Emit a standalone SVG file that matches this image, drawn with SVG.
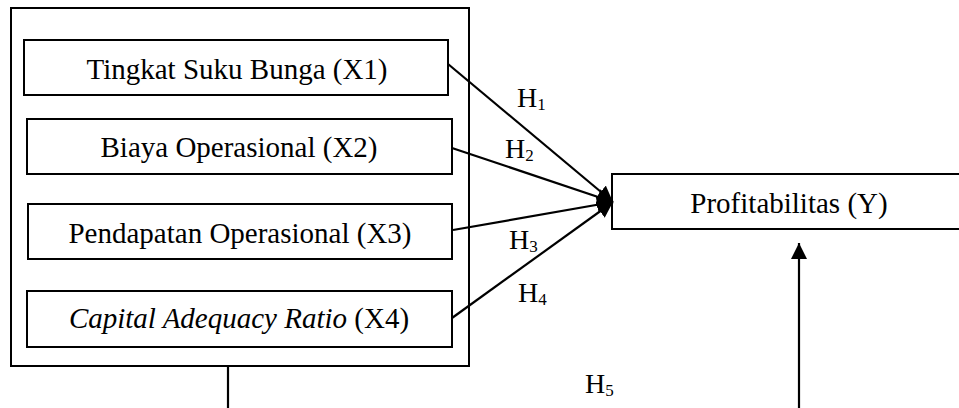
<svg xmlns="http://www.w3.org/2000/svg" width="959" height="408" viewBox="0 0 959 408">
<defs>
<style>
.box{fill:#fff;stroke:#000;stroke-width:2}
.lbl{font-family:"Liberation Serif","Times New Roman",serif;font-size:29px;fill:#000;text-anchor:middle}
.h{font-family:"Liberation Serif","Times New Roman",serif;font-size:28px;fill:#000}
.sub{font-size:17px}
.ln{stroke:#000;stroke-width:2.2;fill:none}
</style>
<marker id="ah" markerUnits="userSpaceOnUse" markerWidth="17" markerHeight="17" refX="16" refY="8" orient="auto">
<path d="M0,0 L16,8 L0,16 z" fill="#000"/>
</marker>
</defs>
<rect width="959" height="408" fill="#fff"/>
<g id="group-x">
<rect class="box" x="11" y="8" width="458" height="358"/>
</g>
<g id="x1"><rect class="box" x="24" y="40" width="424" height="55"/><text class="lbl" x="237" y="79">Tingkat Suku Bunga (X1)</text></g>
<g id="x2"><rect class="box" x="27" y="119" width="425" height="55"/><text class="lbl" x="239" y="157">Biaya Operasional (X2)</text></g>
<g id="x3"><rect class="box" x="28" y="204" width="424" height="55"/><text class="lbl" x="240" y="243">Pendapatan Operasional (X3)</text></g>
<g id="x4"><rect class="box" x="27" y="291" width="425" height="56"/><text class="lbl" x="239" y="328"><tspan font-style="italic">Capital Adequacy Ratio</tspan> (X4)</text></g>
<g id="y"><rect class="box" x="612" y="174" width="360" height="55"/><text class="lbl" x="789" y="213">Profitabilitas (Y)</text></g>
<g id="connectors">
<line class="ln" x1="448" y1="64" x2="613" y2="202" marker-end="url(#ah)"/>
<line class="ln" x1="452" y1="148" x2="613" y2="202" marker-end="url(#ah)"/>
<line class="ln" x1="453" y1="230" x2="613" y2="202" marker-end="url(#ah)"/>
<line class="ln" x1="452" y1="318" x2="613" y2="202" marker-end="url(#ah)"/>
<line class="ln" x1="228" y1="366" x2="228" y2="408"/>
<line class="ln" x1="799" y1="408" x2="799" y2="243" marker-end="url(#ah)"/>
</g>
<g id="labels">
<text class="h" x="517" y="107">H<tspan class="sub" dy="3">1</tspan></text>
<text class="h" x="505" y="158">H<tspan class="sub" dy="3">2</tspan></text>
<text class="h" x="509" y="249">H<tspan class="sub" dy="3">3</tspan></text>
<text class="h" x="518" y="302">H<tspan class="sub" dy="3">4</tspan></text>
<text class="h" x="585" y="393">H<tspan class="sub" dy="3">5</tspan></text>
</g>
</svg>
